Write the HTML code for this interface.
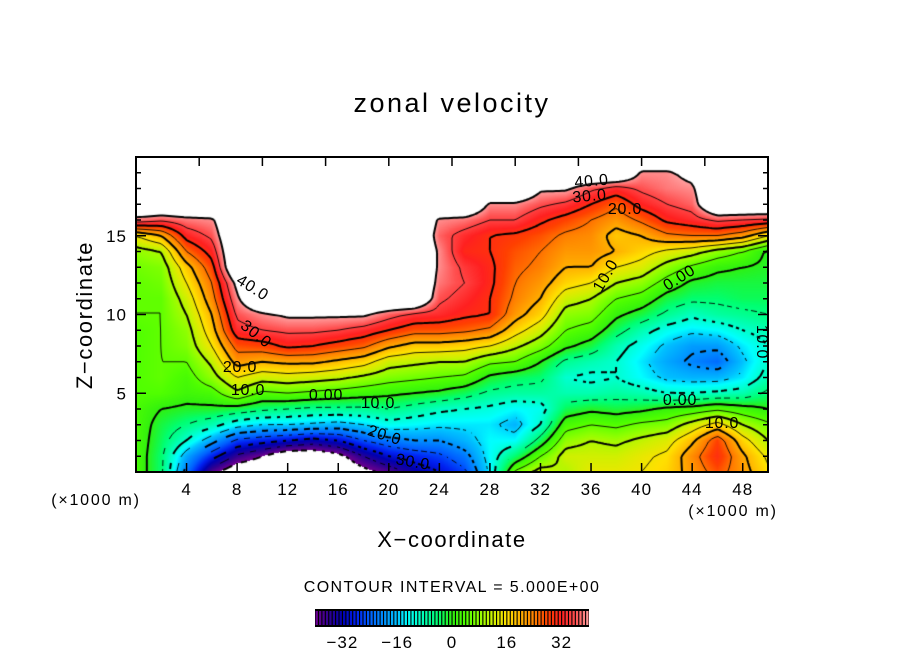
<!DOCTYPE html>
<html><head><meta charset="utf-8"><title>zonal velocity</title>
<style>
html,body{margin:0;padding:0;background:#fff;}
#root{position:relative;width:904px;height:654px;overflow:hidden;font-family:"Liberation Sans",sans-serif;}
#field{position:absolute;left:136px;top:157px;}
#ov{position:absolute;left:0;top:0;}
</style></head>
<body>
<div id="root">
<canvas id="field" width="632" height="315"></canvas>
<svg id="ov" width="904" height="654" font-family="Liberation Sans, sans-serif">
  <text x="452" y="112" font-size="27" letter-spacing="2.5" text-anchor="middle">zonal velocity</text>
  <text x="452" y="547" font-size="22" letter-spacing="1.6" text-anchor="middle">X−coordinate</text>
  <text transform="translate(92,315) rotate(-90)" font-size="22" letter-spacing="1.6" text-anchor="middle">Z−coordinate</text>
  <text x="96" y="505" font-size="16" letter-spacing="1.8" text-anchor="middle">(×1000 m)</text>
  <text x="733" y="516" font-size="16" letter-spacing="1.8" text-anchor="middle">(×1000 m)</text>
  <text x="452" y="592" font-size="16" letter-spacing="1.4" text-anchor="middle">CONTOUR INTERVAL = 5.000E+00</text>
  <g id="ticks"></g>
  <g id="clabels" font-size="16" letter-spacing="0.8"></g>
  <rect x="136" y="157" width="632" height="315" fill="none" stroke="#000" stroke-width="2"/>
  <g id="cbar"></g>
</svg>
</div>
<script>
const W = 50;
const xKm = [0,2,4,6,8,10,12,14,16,18,20,22,24,26,28,30,32,34,36,38,40,42,44,46,48,50];
const zKm = [0,1,2,3,4,5,6,7,8,9,10,11,12,13,14,15,16,17,18,19,20];
const u_x00 = [3,3,3,3,3,4,4,4,4,4,5,5,5,6,8,15,38,W,W,W,W];
const u_x02 = [-4,-4,-3,-2,0,4,5,5,5,5,5,5,6,7,10,20,36,W,W,W,W];
const u_x04 = [-22,-18,-10,-5,-1,2,3,5,7,8,10,12,15,18,25,32,38,W,W,W,W];
const u_x06 = [-38,-28,-18,-8,-1,3,8,11,15,18,20,23,25,28,32,36,39,W,W,W,W];
const u_x08 = [-45,-36,-26,-13,-2,9,15,22,27,33,36,39,42,W,W,W,W,W,W,W,W];
const u_x10 = [-46,-40,-28,-15,-4,4,12,20,28,35,39,W,W,W,W,W,W,W,W,W,W];
const u_x12 = [-47,-45,-30,-15,-5,5,13,21,31,36,41,W,W,W,W,W,W,W,W,W,W];
const u_x14 = [-47,-45,-32,-16,-6,4,12,21,30,36,41,W,W,W,W,W,W,W,W,W,W];
const u_x16 = [-47,-42,-30,-17,-6,3,11,19,28,35,41,W,W,W,W,W,W,W,W,W,W];
const u_x18 = [-42,-35,-25,-15,-6,2,9,17,26,33,41,W,W,W,W,W,W,W,W,W,W];
const u_x20 = [-38,-30,-22,-12,-5,1,7,12,21,30,37,W,W,W,W,W,W,W,W,W,W];
const u_x22 = [-33,-28,-20,-13,-7,0,6,11,18,27,34,W,W,W,W,W,W,W,W,W,W];
const u_x24 = [-30,-26,-20,-14,-9,-1,5,10,18,27,33,36,38,39,39,37,39,W,W,W,W];
const u_x26 = [-26,-22,-17,-14,-10,-3,4,10,17,26,31,33,35,34,31,33,38,W,W,W,W];
const u_x28 = [-14,-13,-13,-14,-11,-6,-1,6,15,24,30,30,31,31,30,30,35,39,W,W,W];
const u_x30 = [6,-4,-13,-17,-13,-7,-3,5,11,17,22,24,25,26,27,29,35,39,W,W,W];
const u_x32 = [12,5,-3,-10,-12,-7,-4,0,7,12,17,20,22,24,25,27,31,36,41,W,W];
const u_x34 = [10,12,8,3,-3,-8,-10,-6,1,5,8,12,17,20,22,24,28,34,41,W,W];
const u_x36 = [14,12,10,5,-1,-8,-11,-8,-2,3,7,10,15,20,22,23,25,30,36,W,W];
const u_x38 = [14,12,9,4,-2,-7,-10,-10,-8,-3,1,5,10,15,20,18,22,26,33,W,W];
const u_x40 = [15,14,11,6,-1,-8,-13,-14,-12,-8,-2,3,8,13,17,20,26,32,36,39,W];
const u_x42 = [17,16,13,7,1,-10,-16,-18,-16,-12,-6,-2,3,8,14,24,31,35,38,39,W];
const u_x44 = [22,23,19,12,2,-10,-17,-21,-19,-14,-9,-4,-1,4,12,25,33,37,39,42,W];
const u_x46 = [27,30,28,17,4,-9,-17,-23,-19,-13,-7,-4,-2,1,8,25,36,W,W,W,W];
const u_x48 = [22,21,17,10,2,-8,-14,-16,-14,-10,-6,-3,-2,0,5,22,35,W,W,W,W];
const u_x50 = [16,14,10,6,0,-4,-8,-10,-10,-8,-5,-3,-2,-1,-1,15,34,W,W,W,W];
const columns = [u_x00,u_x02,u_x04,u_x06,u_x08,u_x10,u_x12,u_x14,u_x16,u_x18,u_x20,u_x22,u_x24,u_x26,u_x28,u_x30,u_x32,u_x34,u_x36,u_x38,u_x40,u_x42,u_x44,u_x46,u_x48,u_x50];
const xTickLabels = [4,8,12,16,20,24,28,32,36,40,44,48];
const zTickLabels = [5,10,15];
const cbTickLabels = [-32,-16,0,16,32];
const cbStopValues = [-40,-36,-32,-28,-24,-20,-16,-13,-8,-4,0,4,8,12,16,20,24,28,32,36,40];
const cbStopColors = ["#700090","#300090","#0000b0","#0020f0","#0060ff","#0090ff","#00c0ff","#00ffff","#00ffb0","#00ff70","#30f010","#50ff00","#90ff00","#d0f000","#ffe000","#ffb000","#ff8000","#ff4000","#ff2020","#ff5050","#ffa0a0"];
const contourLevels = [-40,-35,-30,-25,-20,-15,-10,-5,0,5,10,15,20,25,30,35,40];

const PX = 136, PY = 157, PW = 632, PH = 315, XMAX = 50, ZMAX = 20;
function sx(km){ return PX + km / XMAX * PW; }
function sz(km){ return PY + PH - km / ZMAX * PH; }

function hex(c){ return [parseInt(c.substr(1,2),16),parseInt(c.substr(3,2),16),parseInt(c.substr(5,2),16)]; }
const stopRGB = cbStopColors.map(hex);
function colorOf(v){
  if (v <= cbStopValues[0]) return stopRGB[0];
  for (let i=1;i<cbStopValues.length;i++){
    if (v <= cbStopValues[i]){
      const t=(v-cbStopValues[i-1])/(cbStopValues[i]-cbStopValues[i-1]);
      const a=stopRGB[i-1], b=stopRGB[i];
      return [a[0]+(b[0]-a[0])*t, a[1]+(b[1]-a[1])*t, a[2]+(b[2]-a[2])*t];
    }
  }
  return stopRGB[stopRGB.length-1];
}
function valueAt(xk, zk){
  const dx = xKm[1]-xKm[0], dz = zKm[1]-zKm[0];
  let fi = (xk - xKm[0]) / dx, fj = (zk - zKm[0]) / dz;
  fi = Math.max(0, Math.min(xKm.length-1.0001, fi));
  fj = Math.max(0, Math.min(zKm.length-1.0001, fj));
  const i = Math.floor(fi), j = Math.floor(fj), tx = fi-i, tz = fj-j;
  const a = columns[i][j], b = columns[i+1][j], c = columns[i][j+1], d = columns[i+1][j+1];
  return a*(1-tx)*(1-tz) + b*tx*(1-tz) + c*(1-tx)*tz + d*tx*tz;
}
function pxToKm(px){ return px / PW * XMAX; }
function pyToKm(py){ return (PH - py) / PH * ZMAX; }

const cv = document.getElementById('field');
const ctx = cv.getContext('2d');
const img = ctx.createImageData(PW, PH);
for (let y=0;y<PH;y++){
  for (let x=0;x<PW;x++){
    const v = valueAt(pxToKm(x+0.5), pyToKm(y+0.5));
    const k = (y*PW+x)*4;
    if (v > 40 || v < -40){ img.data[k]=255; img.data[k+1]=255; img.data[k+2]=255; }
    else { const c = colorOf(v); img.data[k]=c[0]; img.data[k+1]=c[1]; img.data[k+2]=c[2]; }
    img.data[k+3]=255;
  }
}
ctx.putImageData(img,0,0);

const STEP = 3;
const nx = Math.ceil(PW/STEP)+1, ny = Math.ceil(PH/STEP)+1;
const samp = [];
for (let j=0;j<ny;j++){ const row=[]; for (let i=0;i<nx;i++){ row.push(valueAt(pxToKm(Math.min(PW,i*STEP)), pyToKm(Math.min(PH,j*STEP)))); } samp.push(row); }
function interp(p1, p2, v1, v2, L){ const t=(L-v1)/(v2-v1); return [p1[0]+(p2[0]-p1[0])*t, p1[1]+(p2[1]-p1[1])*t]; }
contourLevels.forEach(function(L){
  const segs = [];
  for (let j=0;j<ny-1;j++){
    for (let i=0;i<nx-1;i++){
      const x0=Math.min(PW,i*STEP), x1=Math.min(PW,(i+1)*STEP), y0=Math.min(PH,j*STEP), y1=Math.min(PH,(j+1)*STEP);
      const v=[samp[j][i], samp[j][i+1], samp[j+1][i+1], samp[j+1][i]];
      const p=[[x0,y0],[x1,y0],[x1,y1],[x0,y1]];
      const pts=[];
      for (let e=0;e<4;e++){
        const a=v[e], b=v[(e+1)%4];
        if ((a<L && b>=L) || (a>=L && b<L)) pts.push(interp(p[e],p[(e+1)%4],a,b,L));
      }
      if (pts.length===2) segs.push([pts[0],pts[1]]);
      else if (pts.length===4){ segs.push([pts[0],pts[1]]); segs.push([pts[2],pts[3]]); }
    }
  }
  ctx.strokeStyle = '#000';
  ctx.lineWidth = (L % 10 === 0) ? 2 : 0.9;
  ctx.beginPath();
  segs.forEach(function(s){
    if (L < 0){
      const mx=(s[0][0]+s[1][0])/2, my=(s[0][1]+s[1][1])/2;
      if (Math.floor((mx+my)/5) % 2 !== 0) return;
    }
    ctx.moveTo(s[0][0], s[0][1]); ctx.lineTo(s[1][0], s[1][1]);
  });
  ctx.stroke();
});

const NS = 'http://www.w3.org/2000/svg';
const tg = document.getElementById('ticks');
function mk(tag, attrs, parent){ const e=document.createElementNS(NS,tag); for (const k in attrs) e.setAttribute(k, attrs[k]); parent.appendChild(e); return e; }
xTickLabels.forEach(function(v){
  const X = sx(v);
  const t1 = mk('line',{x1:X,y1:PY+PH,x2:X,y2:PY+PH-9,stroke:'#000','stroke-width':1.5},tg);
  
  
  const lb = mk('text',{x:X,y:495,'font-size':17,'letter-spacing':1,'text-anchor':'middle'},tg);
  lb.textContent = v;
  
  
});
for (let v=5; v<XMAX; v+=5){
  const X = sx(v);
  const t2 = mk('line',{x1:X,y1:PY,x2:X,y2:PY+9,stroke:'#000','stroke-width':1.5},tg);
  
  
}
for (let v=1; v<ZMAX; v++){
  const Y = sz(v); const len = (v%5===0)?10:5;
  const t3 = mk('line',{x1:PX,y1:Y,x2:PX+len,y2:Y,stroke:'#000','stroke-width':1.5},tg);
  
  
  const t4 = mk('line',{x1:PX+PW,y1:Y,x2:PX+PW-len,y2:Y,stroke:'#000','stroke-width':1.5},tg);
  
  
}
zTickLabels.forEach(function(v){
  const lb = mk('text',{x:127,y:sz(v)+6,'font-size':17,'letter-spacing':1,'text-anchor':'end'},tg);
  lb.textContent = v;
  
  
});

const cl = document.getElementById('clabels');
const labelTexts = ["40.0","30.0","20.0","10.0","0.00","10.0","20.0","30.0","40.0","30.0","20.0","10.0","0.00","10.0","0.00","10.0"];
const labelSpots = [[250,292,32],[253,338,38],[240,372,0],[248,395,0],[326,400,0],[378,408,0],[383,440,18],[412,467,10],[592,186,-5],[590,201,-5],[625,214,0],[610,278,-60],[682,282,-32],[757,342,90],[680,405,0],[722,428,0]];
labelTexts.forEach(function(t,i){
  const s = labelSpots[i];
  const e = mk('text',{x:0,y:0,'text-anchor':'middle',transform:'translate('+s[0]+','+s[1]+') rotate('+s[2]+')'},cl);
  e.textContent = t;
  
  
});

const cb = document.getElementById('cbar');
const CBX = 315, CBY = 609, CBW = 274, CBH = 18;
function cbx(v){ return CBX + (v + 40) / 80 * CBW; }
const bg = mk('rect',{x:CBX,y:CBY,width:CBW,height:CBH,fill:'#000'},cb);


for (let v=-40; v<40; v++){
  const c = colorOf(v+0.5);
  const r = mk('rect',{x:cbx(v)+0.6,y:CBY+2,width:2.3,height:CBH-4,fill:'rgb('+Math.round(c[0])+','+Math.round(c[1])+','+Math.round(c[2])+')'},cb);
  
  
}
cbTickLabels.forEach(function(v){
  const lb = mk('text',{x:cbx(v),y:648,'font-size':17,'letter-spacing':1,'text-anchor':'middle'},cb);
  lb.textContent = (v<0?'−'+(-v):String(v));
  
  
});
</script>
</body></html>
